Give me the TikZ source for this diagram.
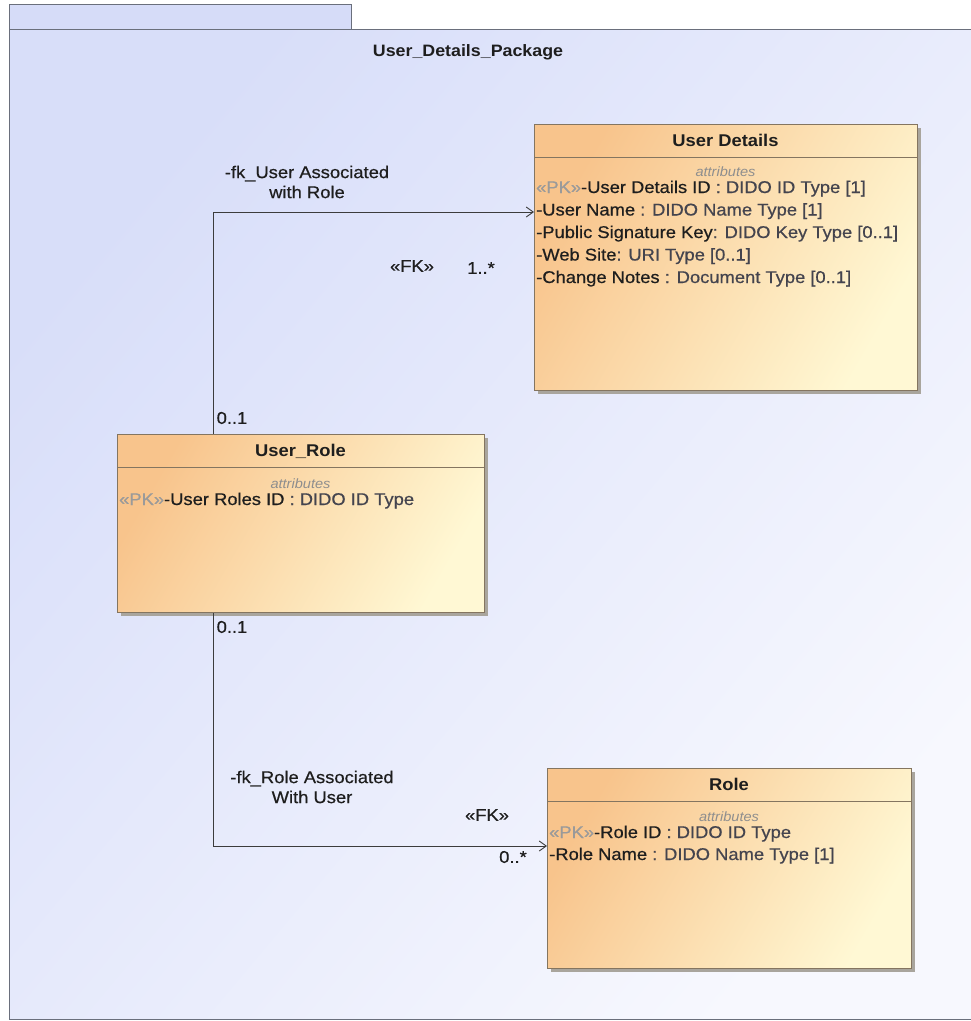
\documentclass[tikz,border=0pt]{standalone}
\usepackage{fontspec}
\setmainfont{Liberation Sans}[FakeStretch=1.08,UprightFeatures={FakeBold=0.6}]
\usetikzlibrary{arrows.meta,shadows}
\definecolor{pkgA}{HTML}{D8DEF9}
\definecolor{pkgB}{HTML}{F7F8FE}
\definecolor{pkgTab}{HTML}{D6DCF8}
\definecolor{pkgLine}{HTML}{6A6F7C}
\definecolor{boxA}{HTML}{F8C48C}
\definecolor{boxB}{HTML}{FFF8D4}
\definecolor{boxLine}{HTML}{847560}
\definecolor{shadowC}{HTML}{A9A59D}
\definecolor{nameC}{HTML}{1E1E1E}
\definecolor{typeC}{HTML}{44444E}
\definecolor{pkC}{HTML}{9A9A9A}
\definecolor{attrC}{HTML}{8E8E8E}
\definecolor{connC}{HTML}{3C3C3C}
\newcommand\pkmark{\textcolor{pkC}{«PK»}}
\newcommand\ty[1]{\textcolor{typeC}{#1}}
\begin{document}
\begin{tikzpicture}[x=1pt,y=-1pt,
  pkgshape/.style={draw=pkgLine,line width=1pt,top color=pkgA,bottom color=pkgB,shading angle=50,anchor=north west,inner sep=0},
  pkgtabshape/.style={draw=pkgLine,line width=1pt,fill=pkgTab,anchor=north west,inner sep=0},
  classbox/.style={draw=boxLine,line width=1pt,top color=boxA,bottom color=boxB,shading angle=60,anchor=north west,inner sep=0,
    drop shadow={shadow xshift=3pt,shadow yshift=-3pt,fill=shadowC,opacity=1}},
  sepline/.style={draw=boxLine,line width=1pt},
  pkgtitle/.style={font=\bfseries\fontsize{16.5}{20}\selectfont,text=nameC,inner sep=0,anchor=base},
  ctitle/.style={font=\bfseries\fontsize{17}{20}\selectfont,text=nameC,inner sep=0,anchor=base},
  attrhdr/.style={font=\itshape\fontsize{13.5}{16}\selectfont,text=attrC,inner sep=0,anchor=base},
  attr/.style={font=\fontsize{17}{20}\selectfont,text=nameC,inner sep=0,anchor=base west},
  lbl/.style={font=\fontsize{17}{20}\selectfont,text=nameC,inner sep=0,align=center},
  assoc/.style={draw=connC,line width=0.9pt,-{Straight Barb[length=7pt,width=10pt]}}
]
\useasboundingbox (0,0) rectangle (971,1021);
% package frame
\node[pkgtabshape,minimum width=342pt,minimum height=25pt] (tab) at (9,4) {};
\node[pkgshape,minimum width=975pt,minimum height=990pt] (pkg) at (9,29) {};
\node[pkgtitle] (pkgname) at (468,56) {User\_Details\_Package};

% User Details
\node[classbox,minimum width=383pt,minimum height=266pt] (ud) at (534,124) {};
\draw[sepline] ([yshift=-33pt]ud.north west) -- ([yshift=-33pt]ud.north east);
\node[ctitle] (udname) at (725.5,146) {User Details};
\node[attrhdr] (udhdr) at (725.5,176) {attributes};
\node[attr] (ud1) at (536,193) {\pkmark-User Details ID \ty{: DIDO ID Type [1]}};
\node[attr] (ud2) at (536,215.5) {-User Name \ty{: DIDO Name Type [1]}};
\node[attr] (ud3) at (536,238) {-Public Signature Key\ty{: DIDO Key Type [0..1]}};
\node[attr] (ud4) at (536,260.5) {-Web Site\ty{: URI Type [0..1]}};
\node[attr] (ud5) at (536,283) {-Change Notes \ty{: Document Type [0..1]}};

% User_Role
\node[classbox,minimum width=367pt,minimum height=178pt] (ur) at (117,434) {};
\draw[sepline] ([yshift=-33pt]ur.north west) -- ([yshift=-33pt]ur.north east);
\node[ctitle] (urname) at (300.5,456) {User\_Role};
\node[attrhdr] (urhdr) at (300.5,488) {attributes};
\node[attr] (ur1) at (119,505) {\pkmark-User Roles ID \ty{: DIDO ID Type}};

% Role
\node[classbox,minimum width=364pt,minimum height=200pt] (role) at (547,768) {};
\draw[sepline] ([yshift=-33pt]role.north west) -- ([yshift=-33pt]role.north east);
\node[ctitle] (rolename) at (729,790) {Role};
\node[attrhdr] (rolehdr) at (729,821) {attributes};
\node[attr] (role1) at (549,838) {\pkmark-Role ID \ty{: DIDO ID Type}};
\node[attr] (role2) at (549,860) {-Role Name \ty{: DIDO Name Type [1]}};

% associations
\draw[assoc] ([xshift=96pt]ur.north west) |- ([yshift=-88pt]ud.north west);
\draw[assoc] ([xshift=96pt]ur.south west) |- ([yshift=-78pt]role.north west);

% association labels
\node[lbl] (fk1name) at (307,182) {-fk\_User Associated\\with Role};
\node[lbl] (fk1st) at (412,266) {«FK»};
\node[lbl] (fk1m) at (481,268) {1..*};
\node[lbl] (fk1s) at (232,418) {0..1};
\node[lbl] (fk2s) at (232,627) {0..1};
\node[lbl] (fk2name) at (312,787) {-fk\_Role Associated\\With User};
\node[lbl] (fk2st) at (487,815) {«FK»};
\node[lbl] (fk2m) at (513,857) {0..*};
\end{tikzpicture}
\end{document}
